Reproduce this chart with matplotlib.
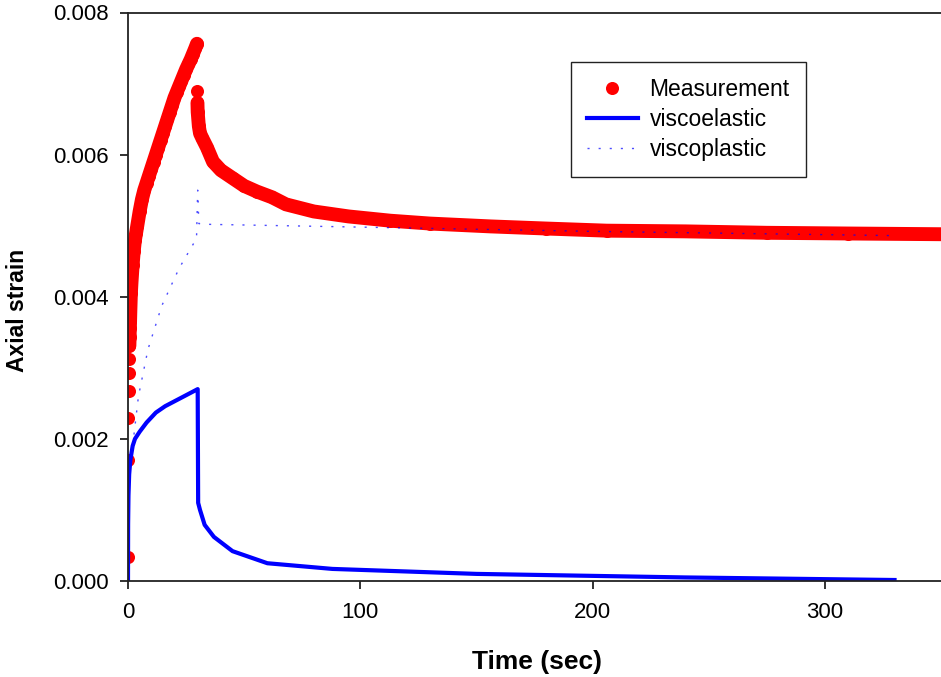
import numpy as np
import matplotlib
matplotlib.use("Agg")
import matplotlib.pyplot as plt

plt.rcParams['font.family'] = ['Liberation Sans', 'DejaVu Sans']

# measured axial strain (creep 0-30 s, then recovery)
meas_time = [0, 0.1, 0.2, 0.3, 0.4, 0.5, 0.6, 0.7, 0.8, 0.9, 1.0, 1.25, 1.5,
             2, 2.5, 3, 3.5, 4, 5, 6, 7, 8, 9, 10, 11, 12, 13, 14, 15, 16,
             17, 18, 19, 20, 21, 22, 23, 24, 25, 26, 27, 28, 29, 29.7,
             29.8, 29.9, 30, 30.5, 31, 32, 34, 36.6, 40, 45, 50, 55.5, 62,
             68, 80, 95, 113, 130, 156, 180, 206, 240, 275, 310, 350]
meas_strain = [0.00034, 0.0017, 0.00229, 0.00267, 0.00293, 0.00312, 0.00331,
               0.00343, 0.00356, 0.00366, 0.00379, 0.00405, 0.0042, 0.00445,
               0.00465, 0.0048, 0.0049, 0.0050, 0.0052, 0.00537, 0.0055,
               0.0056, 0.0057, 0.0058, 0.0059, 0.0060, 0.0061, 0.0062, 0.0063,
               0.0064, 0.0065, 0.0066, 0.0067, 0.0068, 0.00688, 0.00696,
               0.00704, 0.00712, 0.0072, 0.00727, 0.00734, 0.00742, 0.0075,
               0.00756,
               0.0069, 0.00673, 0.0066, 0.0064, 0.0063, 0.00623, 0.0061,
               0.0059, 0.00578, 0.00567, 0.00556, 0.00548, 0.0054, 0.0053,
               0.0052, 0.00513, 0.00507, 0.00503, 0.00499, 0.00496, 0.00493,
               0.00492, 0.0049, 0.00489, 0.00488]

# viscoelastic model
ve_time = [0, 0.05, 0.2, 0.5, 1, 2, 3, 5, 8, 12, 16, 30, 30.2, 31, 33, 37,
           45, 60, 88, 150, 240, 330]
ve_strain = [0.0, 0.0008, 0.0012, 0.0015, 0.0017, 0.0019, 0.0020, 0.0021,
             0.00223, 0.00237, 0.00246, 0.0027, 0.0011, 0.0010, 0.00079,
             0.00062, 0.00042, 0.00025, 0.00017, 0.0001, 0.00005, 0.000014]

# viscoplastic model
vp_time = [0, 2, 4.5, 8.6, 14.5, 22, 29.5, 30, 30.5, 33, 100, 200, 330]
vp_strain = [0.0016, 0.0019, 0.0026, 0.00326, 0.00387, 0.0044, 0.00482,
             0.0055, 0.00503, 0.00502, 0.00498, 0.00492, 0.00486]

t = np.array(meas_time)
s = np.array(meas_strain)

fig = plt.figure(figsize=(9.41, 6.77), dpi=100)
ax = fig.add_axes([128/941, 1 - 581/677, 813/941, 568.5/677])

red = '#ff0000'
# dense measurement points merge into a thick band
creep = (t >= 0.6) & (t <= 29.7)
recov = t >= 29.9
ax.plot(t[creep], s[creep], '-', color=red, lw=10, solid_capstyle='round',
        solid_joinstyle='round')
ax.plot(t[recov], s[recov], '-', color=red, lw=10, solid_capstyle='round',
        solid_joinstyle='round')
ax.plot(t, s, 'o', color=red, ms=9.4, mec='none', label='Measurement')

ax.plot(ve_time, ve_strain, '-', color='#0000ff', lw=3.0, label='viscoelastic')
ax.plot(vp_time, vp_strain, color='#0000ff', lw=1.0, alpha=0.7,
        linestyle=(0, (1.5, 6.5)), label='viscoplastic')

ax.set_xlim(0, 350)
ax.set_ylim(0, 0.008)
ax.set_xticks([0, 100, 200, 300])
ax.set_yticks([0, 0.002, 0.004, 0.006, 0.008])
ax.set_yticklabels(['0.000', '0.002', '0.004', '0.006', '0.008'])

for side in ['left', 'bottom', 'top']:
    ax.spines[side].set_linewidth(1.3)
    ax.spines[side].set_color('#222222')
ax.spines['right'].set_visible(False)

ax.tick_params(axis='both', direction='out', length=6, width=1.3,
               color='#222222', labelsize=16)
ax.tick_params(axis='y', pad=8)
ax.tick_params(axis='x', pad=9)

ax.set_xlabel('Time (sec)', fontsize=19, fontweight='bold')
ax.xaxis.set_label_coords((537 - 128) / 813, -(662 - 581) / 568.5)
ax.set_ylabel('Axial strain', fontsize=16.5, fontweight='bold')
ax.yaxis.set_label_coords((18 - 128) / 813, (581 - 310) / 568.5)
ax.xaxis.label.set_verticalalignment('center')
ax.yaxis.label.set_verticalalignment('center')

leg = ax.legend(loc='upper left', bbox_to_anchor=(0.545, 0.913),
                borderaxespad=0, fontsize=16.5, fancybox=False,
                framealpha=1, edgecolor='#222222', handlelength=2.2,
                handletextpad=0.52, labelspacing=0.3, borderpad=0.7)
leg.get_frame().set_linewidth(1.0)

fig.savefig('out.png', dpi=100)
